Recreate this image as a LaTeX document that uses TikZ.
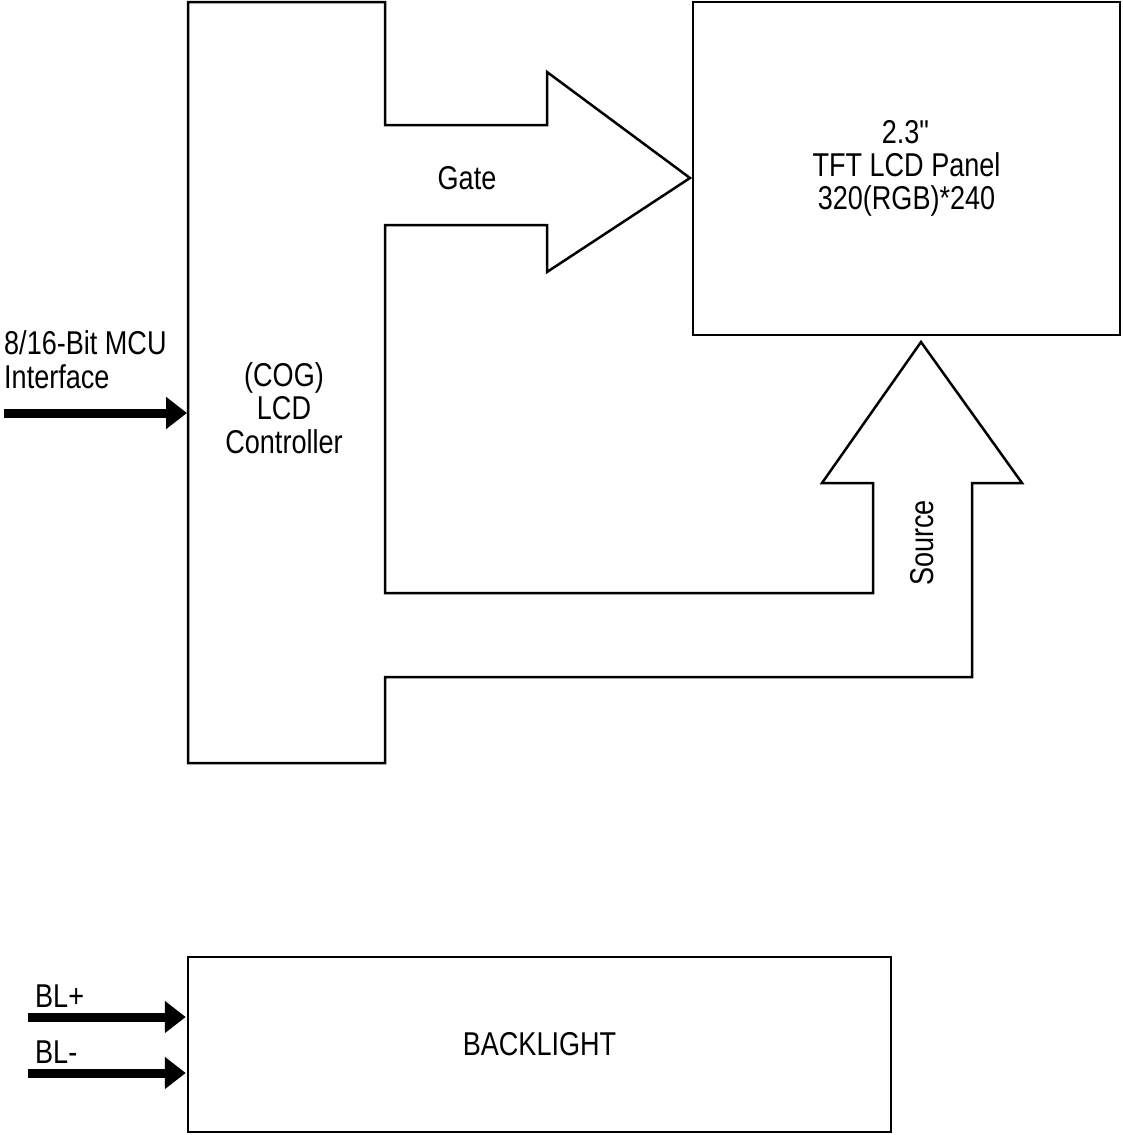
\documentclass[tikz,border=0pt]{standalone}
\usepackage{fontspec}
\setmainfont{Liberation Sans}[FakeStretch=0.82]
\usetikzlibrary{arrows.meta,positioning}
\tikzset{
blkbox/.style={rectangle,draw=black,line width=2.5pt,inner sep=0pt,align=center,
  font=\fontsize{33}{33}\selectfont},
blklabel/.style={align=center,inner sep=0pt,font=\fontsize{33}{33.5}\selectfont},
busline/.style={line width=2.5pt,line join=miter},
inarr/.style={line width=9pt,-{Triangle[length=21pt,width=31pt]}}
}
\begin{document}
\begin{tikzpicture}[x=1pt,y=-1pt]
\useasboundingbox (0,0) rectangle (1123,1135);
\node[blkbox,minimum width=427pt,minimum height=333pt] (panel) at (906.5,168.5)
  {2.3\textquotedbl\\TFT LCD Panel\\320(RGB)*240};
\node[blkbox,minimum width=703pt,minimum height=175pt] (backlight) at (539.5,1044.5) {BACKLIGHT};
% controller outline with gate and source buses
\draw[busline] (188,2) -- (385,2) -- (385,125) -- (547,125) -- (547,72) -- (690,178)
  -- (547,272) -- (547,225) -- (385,225) -- (385,593) -- (873,593) -- (873,483)
  -- (822,483) -- (921,342) -- (1022,483) -- (972,483) -- (972,677) -- (385,677)
  -- (385,763) -- (188,763) -- cycle;
\node[blklabel] (ctl) at (284,408) {(COG)\\LCD\\Controller};
\node[blklabel] (gate) at (467,178) {Gate};
\node[blklabel,rotate=90] (source) at (922,543) {Source};
\node[blklabel,align=left,anchor=base west] (mcu) at (4,388) {8/16-Bit MCU\\Interface};
\coordinate (mcuin) at (4,413);
\coordinate (ctlw) at (187,413);
\draw[inarr] (mcuin) -- (ctlw);
\node[blklabel,anchor=base west] (blplus) at (35,1007) {BL+};
\node[blklabel,anchor=base west] (blminus) at (35,1063) {BL-};
\coordinate (blp) at (28,1017);
\coordinate (blm) at (28,1073);
\draw[inarr] (blp) -- ([xshift=-1pt]blp -| backlight.west);
\draw[inarr] (blm) -- ([xshift=-1pt]blm -| backlight.west);
\end{tikzpicture}
\end{document}
